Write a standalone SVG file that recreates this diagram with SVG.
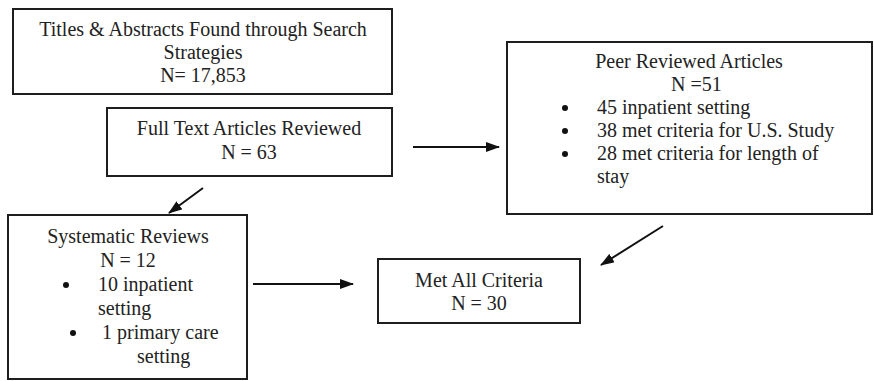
<svg xmlns="http://www.w3.org/2000/svg" width="874" height="381" viewBox="0 0 874 381">
<style>
.box{fill:#fff;stroke:#1e1e1e;stroke-width:2}
text{font-family:"Liberation Serif","Times New Roman",serif;font-size:20px;fill:#222}
.c{text-anchor:middle}
.dot{fill:#111}
.edge{stroke:#111;stroke-width:2;fill:none;marker-end:url(#ah)}
</style>
<defs>
<marker id="ah" viewBox="0 0 14 10" refX="13" refY="5" markerWidth="14" markerHeight="10" markerUnits="userSpaceOnUse" orient="auto">
<path d="M0,0 L14,5 L0,10 Z" fill="#111"/>
</marker>
</defs>
<rect width="874" height="381" fill="#fff"/>
<g id="titles">
<rect class="box" x="13" y="9" width="379" height="85"/>
<text class="c" x="203" y="36">Titles &amp; Abstracts Found through Search</text>
<text class="c" x="203" y="59">Strategies</text>
<text class="c" x="203" y="82">N= 17,853</text>
</g>
<g id="fulltext">
<rect class="box" x="107" y="108" width="285" height="68"/>
<text class="c" x="249" y="135">Full Text Articles Reviewed</text>
<text class="c" x="249" y="159">N = 63</text>
</g>
<g id="peer">
<rect class="box" x="507" y="42" width="365" height="172"/>
<text class="c" x="689" y="68">Peer Reviewed Articles</text>
<text x="671" y="91">N =51</text>
<circle class="dot" cx="565" cy="108" r="3"/><text x="597" y="114">45 inpatient setting</text>
<circle class="dot" cx="565" cy="131" r="3"/><text x="597" y="137">38 met criteria for U.S. Study</text>
<circle class="dot" cx="565" cy="154" r="3"/><text x="597" y="160">28 met criteria for length of</text>
<text x="597" y="183">stay</text>
</g>
<g id="systematic">
<rect class="box" x="8" y="215" width="239" height="164"/>
<text class="c" x="128" y="243">Systematic Reviews</text>
<text class="c" x="128" y="267">N = 12</text>
<circle class="dot" cx="66" cy="285" r="3"/><text x="98" y="291">10 inpatient</text>
<text x="98" y="315">setting</text>
<circle class="dot" cx="73" cy="333" r="3"/><text x="102" y="339">1 primary care</text>
<text x="137" y="363">setting</text>
</g>
<g id="met">
<rect class="box" x="378" y="259" width="202" height="64"/>
<text class="c" x="479" y="287">Met All Criteria</text>
<text class="c" x="479" y="310">N = 30</text>
</g>
<g id="connectors">
<line class="edge" x1="413" y1="147" x2="499" y2="147"/>
<line class="edge" x1="203" y1="188" x2="169" y2="213"/>
<line class="edge" x1="253" y1="284" x2="353" y2="284"/>
<line class="edge" x1="663" y1="226" x2="601" y2="265"/>
</g>
</svg>
